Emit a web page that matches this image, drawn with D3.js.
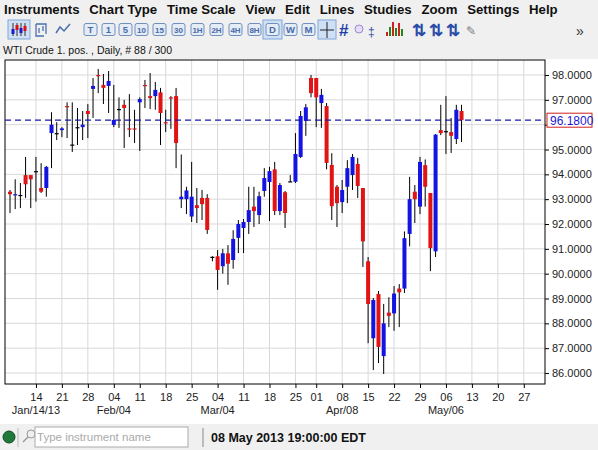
<!DOCTYPE html>
<html><head><meta charset="utf-8">
<script src="https://cdn.jsdelivr.net/npm/d3@7"></script>
<style>body{margin:0;background:#fff;font-family:"Liberation Sans",Arial,sans-serif;}</style>
</head><body><svg id="c" width="598" height="450"></svg>
<script>
// OHLC candles, one per trading day (index order)
const opens  = [93.3,93.15,93.17,93.97,93.97,94.13,93.45,93.45,95.66,95.66,95.78,96.75,95.2,95.9,95.9,96.55,97.44,98.0,97.6,97.56,95.99,96.63,96.8,95.85,95.85,96.9,97.6,97.15,97.15,97.3,96.1,97.1,97.15,93.0,93.0,92.3,92.76,93.05,93.05,90.68,90.7,90.3,90.82,90.55,91.44,91.84,92.08,92.7,92.36,93.33,93.69,94.2,92.52,93.28,93.72,93.7,94.7,96.15,97.88,97.88,96.87,96.75,94.38,93.5,92.88,93.5,93.97,94.42,93.45,90.5,87.4,89.18,86.68,88.43,88.4,89.4,89.4,91.6,93.3,92.7,94.37,93.25,90.9,95.78,95.74,95.7,95.42,96.55];
const highs  = [93.37,93.8,93.65,94.7,93.97,94.7,94.45,94.34,96.5,96.1,95.9,96.9,96.9,96.67,96.55,96.83,97.88,98.24,98.04,98.16,97.6,97.1,97.0,97.23,96.6,97.1,97.8,98.08,97.72,97.48,96.6,97.15,97.48,94.8,93.5,94.5,93.45,93.37,93.2,90.7,90.95,91.0,91.15,91.75,92.16,92.2,93.5,93.5,93.3,94.25,94.3,94.5,93.65,93.33,93.97,95.66,96.55,96.83,98.0,97.88,97.44,96.87,94.85,93.57,93.77,94.57,94.82,94.66,93.45,90.67,89.02,89.3,88.78,89.05,89.5,89.58,91.7,93.9,93.57,94.7,94.6,93.25,95.62,96.8,97.15,96.27,96.8,96.8];
const lows   = [92.44,92.6,92.64,93.05,92.64,92.9,93.25,93.1,94.25,95.38,95.5,95.46,94.9,95.18,95.38,95.46,96.27,97.27,96.83,96.47,95.9,95.87,95.06,95.5,95.26,94.94,96.67,96.63,96.6,95.18,95.7,95.83,94.25,92.64,92.4,92.08,92.04,92.16,91.6,90.5,89.35,90.0,89.55,90.2,90.83,90.83,91.6,91.88,92.0,93.1,92.12,92.36,92.36,91.84,93.7,93.65,94.66,95.55,97.1,95.9,95.87,94.2,92.16,91.88,92.44,92.84,93.37,93.05,90.27,87.2,86.12,86.4,85.96,87.85,87.7,87.85,89.22,91.1,92.04,92.4,92.7,90.1,90.67,95.58,94.82,94.86,95.22,95.3];
const closes = [93.2,93.2,93.17,93.6,93.8,94.13,93.3,94.3,96.0,95.66,95.85,96.7,95.2,95.9,96.0,96.43,97.56,97.95,97.48,97.76,96.19,96.63,96.67,95.8,95.8,97.03,97.55,97.07,97.4,96.47,96.05,97.05,95.26,93.1,93.35,93.1,92.64,92.8,91.76,90.68,90.15,90.82,90.4,91.4,92.0,92.08,92.56,92.52,93.12,93.85,94.13,92.52,93.57,92.44,93.72,94.82,96.35,96.7,97.27,97.1,97.2,94.46,92.72,92.84,93.37,94.25,94.7,93.53,91.3,88.78,88.94,87.05,88.0,88.3,89.2,89.25,91.43,93.0,93.0,94.5,93.5,91.03,95.6,95.66,95.74,95.55,96.6,96.18];
const lastPrice = 96.18;
const priceTicks = [86,87,88,89,90,91,92,93,94,95,96,97,98];
const dayTickIdx = [5,10,15,20,25,30,35,40,45,50,55,59,64,69,74,79,84,89,94,99];
const dayTickLabels = ["14","21","28","04","11","18","25","04","11","18","25","01","08","15","22","29","06","13","20","27"];
const monthLabels = [["Jan/14/13",5],["Feb/04",20],["Mar/04",40],["Apr/08",64],["May/06",84]];
const menus = ["Instruments","Chart Type","Time Scale","View","Edit","Lines","Studies","Zoom","Settings","Help"];
const tfButtons = ["T","1","5","10","15","30","1H","2H","4H","8H","D","W","M"];

const svg = d3.select("#c");
const L=5,R=545,T=60,B=384;
const x = d3.scaleLinear().domain([0,1]).range([10,15.19]);
const y = d3.scaleLinear().domain([86,98]).range([373,75]);

// toolbar
svg.append("rect").attr("width",598).attr("height",59).attr("fill","#f0f0f0");
let mx=4;
const mg=svg.append("g");
menus.forEach(m=>{const t=mg.append("text").attr("x",mx).attr("y",14).attr("font-size",13.2).attr("font-weight","bold").attr("fill","#111").text(m);mx+=t.node().getComputedTextLength()+9.8;});
// icons row
const ig=svg.append("g");
ig.append("rect").attr("x",8).attr("y",20).attr("width",22).attr("height",19).attr("fill","#cfe0f5").attr("stroke","#7fa7d8");
[[13,2],[17,-2],[21,1],[25,-1]].forEach(([cx,d],i)=>{ig.append("line").attr("x1",cx).attr("x2",cx).attr("y1",23).attr("y2",36).attr("stroke","#333");ig.append("rect").attr("x",cx-1.5).attr("y",27+d).attr("width",3).attr("height",5).attr("fill",i%2?"#d11":"#1a1ad0");});
ig.append("path").attr("d","M36 24 H46 V34 M36 24 V36 H44 M39 28 V33 M43 26 V31").attr("fill","none").attr("stroke","#4a6fb0").attr("stroke-width",1.3);
ig.append("path").attr("d","M56 33 L60 27 L64 31 L70 24").attr("fill","none").attr("stroke","#4a6fb0").attr("stroke-width",1.5);
const tfX=[84,102,119,135,153,172,191,210,229,248,266,284,302];
tfButtons.forEach((b,i)=>{const bx=tfX[i];const w=13;const sel=b==="D";
 if(sel) ig.append("rect").attr("x",bx-3).attr("y",20).attr("width",w+6).attr("height",19).attr("fill","#cfe0f5").attr("stroke","#7fa7d8");
 ig.append("rect").attr("x",bx).attr("y",23.5).attr("width",w).attr("height",12).attr("rx",2).attr("fill","#e4ecf6").attr("stroke","#6f8fbf");
 ig.append("text").attr("x",bx+w/2).attr("y",33).attr("text-anchor","middle").attr("font-size",b.length>1?8:9.5).attr("font-weight","bold").attr("fill","#4a6aa8").text(b);});
ig.append("rect").attr("x",318).attr("y",20).attr("width",18).attr("height",19).attr("fill","#cfe0f5").attr("stroke","#7fa7d8");
ig.append("path").attr("d","M320 30 H334 M327 22 V38").attr("stroke","#222");
ig.append("text").attr("x",339).attr("y",36).attr("font-size",17).attr("font-weight","bold").attr("fill","#1e3fa8").text("#");
ig.append("circle").attr("cx",359).attr("cy",29).attr("r",4).attr("fill","#e4ddf5").attr("stroke","#9a8ad0");
ig.append("text").attr("x",368).attr("y",36).attr("font-size",12).attr("fill","#2a4ca8").text("‡");
[[0,"#c22"],[1,"#1a8a1a"],[2,"#c22"],[3,"#1a8a1a"],[4,"#c22"],[5,"#1a8a1a"]].forEach(([i,c])=>ig.append("rect").attr("x",386+i*3).attr("y",36-(4+(i*5)%11)).attr("width",2).attr("height",4+(i*5)%11).attr("fill",c));
["⇅","⇅","⇅"].forEach((s,i)=>ig.append("text").attr("x",412+i*17).attr("y",36).attr("font-size",17).attr("font-weight","bold").attr("fill","#2a4ca8").text(s));
ig.append("text").attr("x",466).attr("y",35).attr("font-size",12).attr("fill","#777").text("✎");
ig.append("text").attr("x",576).attr("y",36).attr("font-size",14).attr("fill","#333").text("»");
svg.append("text").attr("x",3).attr("y",54).attr("font-size",10.5).attr("fill","#111").text("WTI Crude 1. pos. , Daily, # 88 / 300");

// grid
const g=svg.append("g");
g.selectAll(".hg").data(priceTicks).join("line").attr("x1",L).attr("x2",R).attr("y1",d=>y(d)).attr("y2",d=>y(d)).attr("stroke","#d8d8d8");
g.selectAll(".vg").data(dayTickIdx).join("line").attr("x1",d=>x(d)).attr("x2",d=>x(d)).attr("y1",T).attr("y2",B).attr("stroke","#d8d8d8");
svg.append("rect").attr("x",L).attr("y",T).attr("width",R-L).attr("height",B-T).attr("fill","none").attr("stroke","#000");

// axes
const ya=svg.append("g").attr("transform",`translate(${R},0)`).call(d3.axisRight(y).tickValues(priceTicks).tickSize(4).tickFormat(d=>Math.abs(d-lastPrice)<0.5?"":d3.format(".4f")(d)));
ya.select(".domain").remove();
ya.selectAll("text").attr("font-size",11).attr("fill","#222").attr("font-family","Liberation Sans, Arial");
const xa=svg.append("g").attr("transform",`translate(0,${B})`).call(d3.axisBottom(x).tickValues(dayTickIdx).tickSize(4).tickFormat((d,i)=>dayTickLabels[i]));
xa.select(".domain").remove();
xa.selectAll("text").attr("font-size",11).attr("fill","#222").attr("font-family","Liberation Sans, Arial").attr("dy","0.9em");
svg.selectAll(".ml").data(monthLabels).join("text").attr("x",d=>x(d[1])).attr("y",414).attr("text-anchor","middle").attr("font-size",11).attr("fill","#222").text(d=>d[0]);

// candles
const data=opens.map((o,i)=>({i,o,h:highs[i],l:lows[i],c:closes[i]}));
const cg=svg.append("g");
cg.selectAll(".w").data(data).join("line").attr("x1",d=>x(d.i)).attr("x2",d=>x(d.i)).attr("y1",d=>y(d.h)).attr("y2",d=>y(d.l)).attr("stroke","#000").attr("stroke-width",1);
cg.selectAll(".b").data(data).join("rect").attr("x",d=>x(d.i)-2).attr("width",4)
 .attr("y",d=>y(Math.max(d.o,d.c))).attr("height",d=>Math.max(1.2,Math.abs(y(d.o)-y(d.c))))
 .attr("fill",d=>Math.abs(d.o-d.c)<0.02?"#000":(d.c>d.o?"#1414e0":"#e01414"));

// last price line
svg.append("line").attr("x1",L).attr("x2",R).attr("y1",y(lastPrice)).attr("y2",y(lastPrice)).attr("stroke","#1a1aa8").attr("stroke-width",1.2).attr("stroke-dasharray","6,4");
svg.append("rect").attr("x",547).attr("y",y(lastPrice)-7).attr("width",45).attr("height",14).attr("fill","#fff").attr("stroke","#d02020");
svg.append("text").attr("x",550).attr("y",y(lastPrice)+4.5).attr("font-size",12).attr("fill","#1a1ad0").text(d3.format(".4f")(lastPrice));

// status bar
svg.append("rect").attr("y",424).attr("width",598).attr("height",26).attr("fill","#f0f0f0");
svg.append("circle").attr("cx",9).attr("cy",437).attr("r",6).attr("fill","#1f7a3a").attr("stroke","#0d4a20");
svg.append("line").attr("x1",18).attr("x2",18).attr("y1",428).attr("y2",447).attr("stroke","#bbb");
svg.append("circle").attr("cx",31).attr("cy",434).attr("r",4).attr("fill","none").attr("stroke","#999");
svg.append("line").attr("x1",28).attr("x2",23).attr("y1",437).attr("y2",442).attr("stroke","#999").attr("stroke-width",1.5);
svg.append("rect").attr("x",35).attr("y",427).attr("width",153).attr("height",20).attr("fill","#fff").attr("stroke","#aaa");
svg.append("text").attr("x",37).attr("y",441).attr("font-size",11.5).attr("fill","#aaa").text("Type instrument name");
svg.append("line").attr("x1",203).attr("x2",203).attr("y1",428).attr("y2",447).attr("stroke","#888");
svg.append("text").attr("x",211).attr("y",442).attr("font-size",12.5).attr("font-weight","bold").attr("fill","#111").text("08 May 2013 19:00:00 EDT");
</script></body></html>
